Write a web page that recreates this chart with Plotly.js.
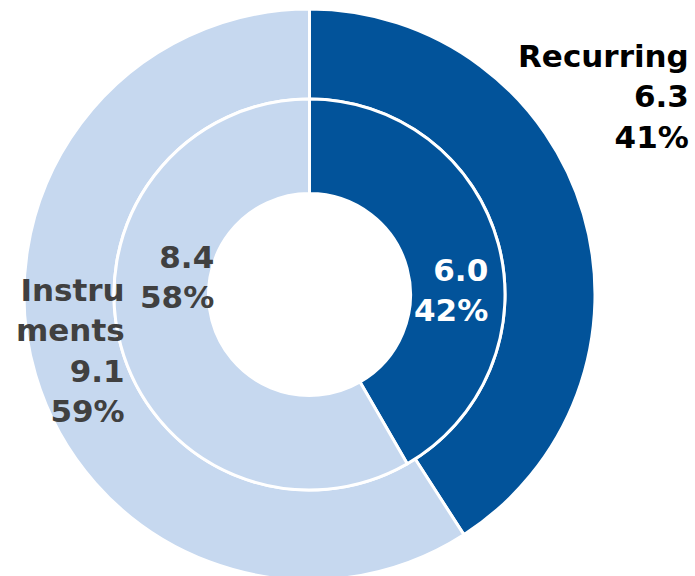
<!DOCTYPE html>
<html>
<head>
<meta charset="utf-8">
<script src="https://cdn.plot.ly/plotly-3.0.1.min.js"></script>
<style>
  html, body { margin: 0; padding: 0; background: #ffffff; overflow: hidden; }
  #chart { width: 695px; height: 600px; }
</style>
</head>
<body>
<div id="chart"></div>
<script>
// ---- data ----
var categories = ['Recurring', 'Instruments'];
var categoryDisplay = ['Recurring', 'Instru<br>ments'];
var outerValues = [6.3, 9.1];
var innerValues = [6.0, 8.4];

// ---- styles ----
var colors = ['#02539A', '#C6D8EF'];
var W = 695, H = 600;
var cx = 309.5, cy = 294.5;
var rOuter = 285.5, rMid = 195.5, rHole = 101;

function domainFor(r) {
  return {
    x: [(cx - r) / W, (cx + r) / W],
    y: [1 - (cy + r) / H, 1 - (cy - r) / H]
  };
}
function pct(vals, i) {
  var s = vals.reduce(function (a, b) { return a + b; }, 0);
  return Math.round(vals[i] / s * 100);
}

var common = {
  type: 'pie',
  sort: false,
  direction: 'clockwise',
  rotation: 0,
  textinfo: 'none',
  hoverinfo: 'none',
  showlegend: false,
  marker: { colors: colors, line: { color: '#ffffff', width: 3 } }
};

var outer = Object.assign({}, common, {
  labels: categories,
  values: outerValues,
  hole: rMid / rOuter,
  domain: domainFor(rOuter)
});
var inner = Object.assign({}, common, {
  labels: categories,
  values: innerValues,
  hole: rHole / rMid,
  domain: domainFor(rMid)
});

var font = { family: 'DejaVu Sans', size: 31, weight: 'bold' };
function ann(text, xRight, yMid, color) {
  return {
    xref: 'paper', yref: 'paper',
    x: xRight / W, y: 1 - yMid / H,
    xanchor: 'right', yanchor: 'middle',
    align: 'right', showarrow: false,
    text: text,
    font: Object.assign({}, font, { color: color })
  };
}

var annotations = [
  ann(categoryDisplay[0] + '<br>' + outerValues[0].toFixed(1) + '<br>' + pct(outerValues, 0) + '%', 691, 96, '#000000'),
  ann(categoryDisplay[1] + '<br>' + outerValues[1].toFixed(1) + '<br>' + pct(outerValues, 1) + '%', 127, 350, '#404040'),
  ann(innerValues[1].toFixed(1) + '<br>' + pct(innerValues, 1) + '%', 216, 277, '#404040'),
  ann(innerValues[0].toFixed(1) + '<br>' + pct(innerValues, 0) + '%', 490, 290, '#ffffff')
];

var layout = {
  width: W, height: H,
  margin: { l: 0, r: 0, t: 0, b: 0 },
  paper_bgcolor: '#ffffff',
  plot_bgcolor: '#ffffff',
  annotations: annotations
};

Plotly.newPlot('chart', [outer, inner], layout, { displayModeBar: false, staticPlot: true });
</script>
</body>
</html>
